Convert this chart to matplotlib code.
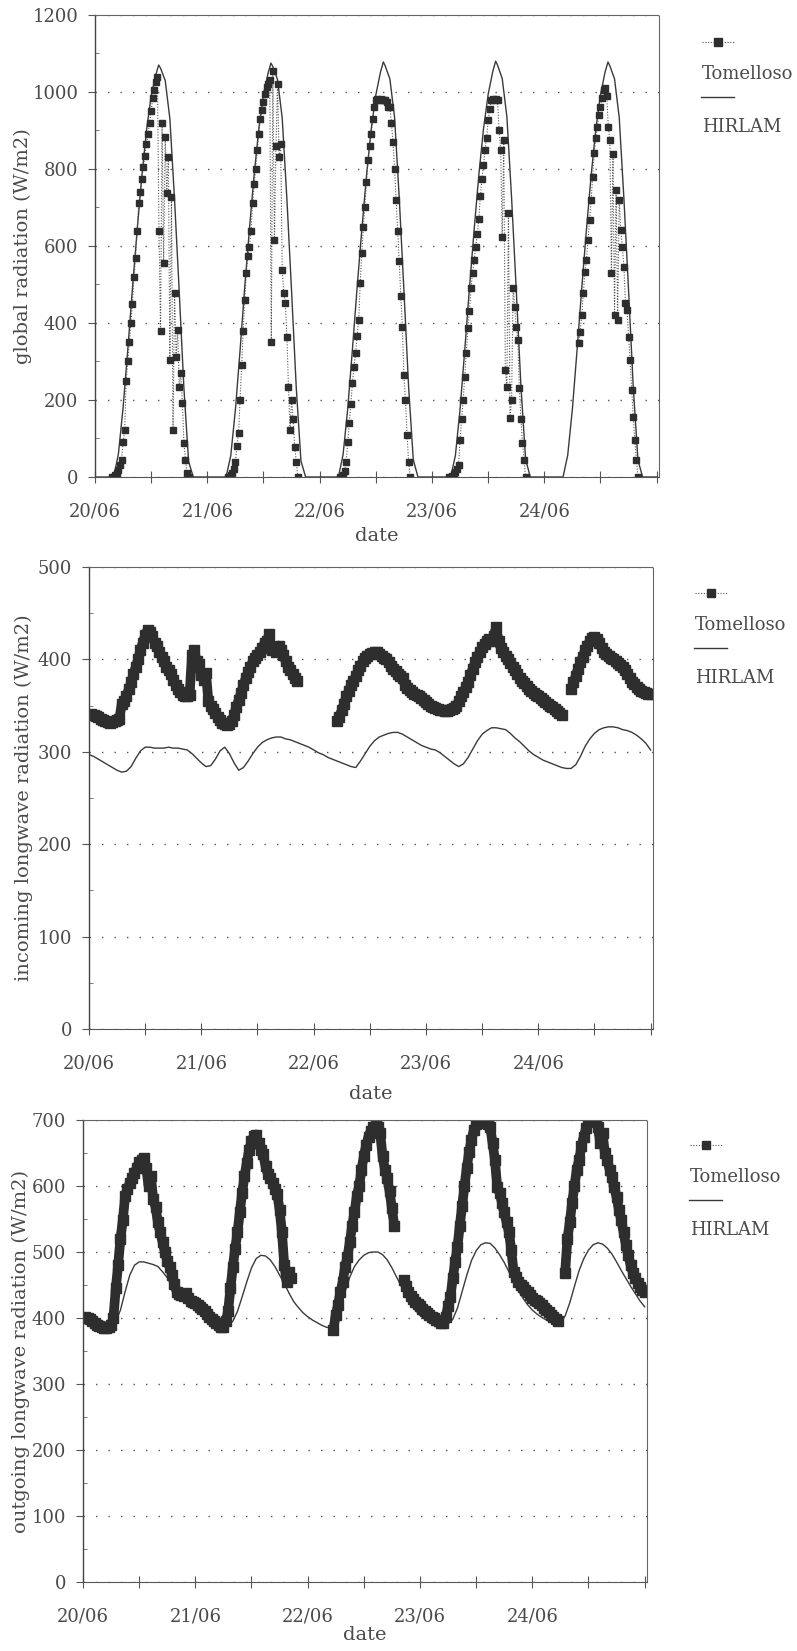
import numpy as np
import matplotlib
matplotlib.use('Agg')
import matplotlib.pyplot as plt
from matplotlib.lines import Line2D

plt.rcParams['font.family'] = ['DejaVu Serif', 'DejaVu Sans']

# ---------------------------------------------------------------
# data (x in hours since 20/06 00:00)
# ---------------------------------------------------------------
day_labels = ['20/06', '21/06', '22/06', '23/06', '24/06']

# global radiation, HIRLAM: knots per day
hirlam_glob_hours = [0, 4, 5, 6, 7, 8, 9, 10, 11, 12, 13, 13.6, 14, 15, 16, 17, 18, 19, 20, 21]
hirlam_glob_d1 = [0, 0, 60, 180, 330, 490, 640, 780, 900, 990, 1045, 1070, 1062, 1030, 930, 720, 480, 230, 40, 0]
hirlam_glob_d2 = [0, 0, 55, 175, 330, 495, 645, 785, 905, 995, 1050, 1075, 1066, 1032, 932, 722, 482, 232, 42, 0]
hirlam_glob_d3 = [0, 0, 58, 178, 332, 492, 642, 782, 902, 992, 1052, 1078, 1068, 1034, 935, 725, 485, 235, 45, 0]
hirlam_glob_d4 = [0, 0, 56, 176, 330, 490, 642, 784, 904, 994, 1054, 1080, 1070, 1035, 936, 726, 486, 236, 46, 0]
hirlam_glob_d5 = [0, 0, 57, 177, 331, 491, 643, 783, 903, 993, 1053, 1078, 1068, 1034, 934, 724, 484, 234, 44, 0]

# global radiation, Tomelloso: 20-min samples, start hour of each day
tom_glob_start = [3 + 2/3, 4 + 1/3, 4 + 1/3, 3 + 2/3, 7 + 1/3]
tom_glob_d1 = [0, 0, 5, 10, 18, 30, 44, 90, 122, 250, 300, 350, 400, 450, 520, 570, 640, 711, 740, 775,
               806, 835, 865, 890, 920, 950, 985, 1005, 1025, 1040, 640, 380, 920, 556, 884, 738, 831, 304,
               728, 122, 478, 312, 382, 234, 270, 192, 88, 44, 10, 0]
tom_glob_d2 = [0, 0, 5, 10, 20, 40, 80, 114, 200, 290, 380, 460, 530, 575, 598, 640, 711, 760, 800, 850,
               890, 930, 953, 975, 995, 1013, 1020, 1030, 351, 1055, 616, 860, 1020, 830, 866, 538, 478,
               452, 364, 234, 122, 200, 150, 78, 40, 0]
tom_glob_d3 = [0, 0, 5, 15, 40, 90, 140, 190, 244, 285, 322, 365, 408, 504, 582, 650, 702, 765, 823, 860,
               890, 930, 960, 980, 982, 980, 983, 980, 978, 980, 975, 960, 960, 920, 870, 800, 720, 640,
               560, 470, 390, 264, 200, 110, 40, 0]
tom_glob_d4 = [0, 0, 3, 8, 12, 20, 30, 96, 150, 200, 260, 322, 387, 430, 490, 530, 564, 598, 630, 670,
               730, 775, 810, 850, 880, 927, 955, 980, 982, 980, 983, 980, 900, 850, 624, 875, 278, 234,
               686, 153, 200, 491, 442, 390, 356, 230, 150, 88, 44, 0]
tom_glob_d5 = [348, 377, 420, 478, 533, 564, 616, 668, 720, 780, 841, 880, 910, 940, 960, 985, 1005, 1010,
               990, 910, 875, 530, 840, 421, 745, 408, 720, 642, 598, 546, 452, 434, 364, 304, 226, 156,
               96, 44, 0]

# incoming longwave, HIRLAM: hourly 0..120
hirlam_lwin = [297, 295, 292, 289, 286, 283, 280, 278, 279, 284, 293, 301, 305, 305, 304, 304, 304, 305,
               304, 304, 303, 302, 298, 293, 288, 284, 285, 292, 301, 305, 298, 288, 280, 283, 290, 298,
               305, 310, 313, 315, 316, 316, 314, 313, 311, 309, 307, 305, 302, 299, 297, 294, 292, 290,
               288, 286, 284, 283, 290, 298, 306, 312, 316, 318, 320, 321, 321, 319, 316, 313, 310, 307,
               305, 303, 302, 299, 295, 291, 287, 284, 287, 294, 303, 312, 319, 323, 326, 326, 325, 324,
               320, 315, 311, 306, 301, 297, 294, 291, 289, 287, 285, 283, 282, 282, 286, 295, 306, 314,
               320, 324, 326, 327, 327, 326, 324, 323, 321, 318, 314, 309, 302]

# incoming longwave, Tomelloso: half-hourly segments
tom_lwin_start = [0.5, 53.0, 103.0]
tom_lwin_a = [341, 340, 339, 338, 336, 334, 333, 332, 331, 332, 333, 334, 336, 352, 355, 360, 368, 375,
              384, 392, 400, 410, 418, 426, 432, 430, 425, 418, 415, 408, 403, 398, 392, 388, 384, 378,
              372, 368, 365, 362, 360, 360, 362, 405, 410, 398, 395, 383, 378, 385, 355, 350, 346, 342,
              338, 334, 331, 330, 329, 330, 333, 340, 349, 356, 364, 372, 380, 386, 392, 398, 402, 405,
              408, 412, 418, 420, 427, 410, 412, 408, 415, 410, 405, 398, 392, 388, 384, 380, 377]
tom_lwin_b = [333, 338, 345, 352, 360, 366, 372, 377, 382, 388, 393, 398, 401, 404, 406, 407, 408, 408,
              406, 404, 402, 400, 397, 393, 390, 387, 384, 382, 380, 372, 369, 367, 365, 363, 362, 360,
              358, 356, 354, 352, 350, 348, 347, 346, 345, 345, 344, 344, 345, 346, 347, 350, 355, 360,
              365, 370, 376, 383, 390, 397, 403, 408, 413, 417, 420, 422, 420, 425, 435, 420, 412, 408,
              404, 400, 396, 392, 388, 384, 380, 377, 374, 371, 368, 366, 364, 362, 360, 358, 356, 354,
              352, 350, 348, 346, 344, 342, 340]
tom_lwin_c = [368, 375, 382, 390, 397, 403, 410, 415, 420, 423, 424, 422, 418, 412, 408, 406, 404, 402,
              400, 398, 396, 394, 392, 388, 384, 380, 376, 373, 370, 368, 366, 365, 364, 363, 363]

# outgoing longwave, HIRLAM: hourly 0..120
hirlam_lwout = [405, 402, 399, 396, 393, 391, 390, 395, 412, 440, 465, 480, 485, 485, 483, 481, 478, 470,
                461, 452, 442, 433, 426, 418, 412, 406, 402, 398, 395, 392, 390, 389, 395, 410, 432, 455,
                476, 490, 495, 494, 488, 478, 465, 452, 438, 425, 416, 408, 402, 397, 393, 389, 386, 385,
                395, 415, 440, 462, 478, 488, 495, 499, 500, 500, 496, 488, 476, 462, 448, 434, 422, 412,
                404, 399, 395, 393, 391, 390, 391, 398, 415, 440, 465, 487, 502, 511, 514, 513, 506, 496,
                484, 470, 456, 442, 430, 420, 412, 406, 401, 397, 394, 392, 393, 403, 423, 448, 472, 490,
                503, 511, 514, 512, 506, 497, 485, 472, 460, 448, 437, 426, 417]

# outgoing longwave, Tomelloso: half-hourly segments
tom_lwout_start = [0.5, 53.5, 68.5, 103.0]
tom_lwout_a = [402, 400, 398, 395, 392, 390, 388, 386, 385, 385, 386, 390, 400, 445, 480, 520, 548, 585,
               595, 605, 612, 620, 628, 636, 640, 642, 628, 600, 615, 580, 568, 545, 530, 515, 500, 487,
               477, 465, 452, 440, 437, 435, 433, 438, 430, 426, 424, 423, 420, 416, 413, 410, 406, 402,
               398, 395, 392, 389, 387, 386, 395, 410, 445, 477, 505, 530, 560, 590, 615, 635, 655, 668,
               676, 678, 665, 655, 648, 630, 618, 612, 605, 595, 588, 564, 530, 480, 455, 470, 460]
tom_lwout_b = [382, 405, 420, 440, 455, 478, 492, 515, 540, 560, 585, 600, 625, 645, 662, 675, 684, 690,
               692, 690, 680, 645, 625, 612, 592, 566, 540]
tom_lwout_c = [458, 448, 440, 434, 429, 425, 421, 418, 414, 411, 408, 405, 402, 400, 397, 395, 393, 392,
               402, 418, 432, 460, 485, 508, 540, 570, 600, 628, 652, 670, 685, 694, 697, 698, 697, 696,
               694, 690, 665, 640, 598, 590, 575, 560, 545, 530, 503, 470, 462, 455, 450, 447, 443, 439,
               435, 431, 428, 426, 423, 419, 415, 412, 409, 405, 401, 398, 396]
tom_lwout_d = [468, 520, 545, 575, 600, 625, 640, 660, 675, 688, 697, 700, 703, 698, 690, 665, 680, 650,
               640, 625, 614, 598, 583, 564, 548, 530, 510, 495, 480, 468, 460, 453, 447, 443, 440]


def join_segments(starts, segs, step):
    xs, ys = [], []
    for s, seg in zip(starts, segs):
        xs.append(s + step * np.arange(len(seg)))
        ys.append(np.asarray(seg, float))
        xs.append([np.nan])
        ys.append([np.nan])
    return np.concatenate(xs), np.concatenate(ys)


hg_x = np.concatenate([24 * d + np.array(hirlam_glob_hours) for d in range(5)] + [[120]])
hg_y = np.concatenate([hirlam_glob_d1, hirlam_glob_d2, hirlam_glob_d3, hirlam_glob_d4, hirlam_glob_d5, [0]])

tg_x, tg_y = join_segments([24 * d + s for d, s in enumerate(tom_glob_start)],
                           [tom_glob_d1, tom_glob_d2, tom_glob_d3, tom_glob_d4, tom_glob_d5], 1 / 3)
ti_x, ti_y = join_segments(tom_lwin_start, [tom_lwin_a, tom_lwin_b, tom_lwin_c], 0.5)
to_x, to_y = join_segments(tom_lwout_start, [tom_lwout_a, tom_lwout_b, tom_lwout_c, tom_lwout_d], 0.5)
hours = np.arange(121)

# ---------------------------------------------------------------
# figure
# ---------------------------------------------------------------
W, H = 797, 1651
fig = plt.figure(figsize=(W / 100, H / 100), dpi=100)
TXT = '#4a4a4a'
DARK = '#2e2e2e'


def add_ax(left, top, right, bottom):
    return fig.add_axes([left / W, 1 - bottom / H, (right - left) / W, (bottom - top) / H])


def style(ax, ymax, ystep, ylabel, ylab_x, xlab_y):
    ax.set_xlim(0, 120.5)
    ax.set_ylim(0, ymax)
    ax.set_xticks([0, 24, 48, 72, 96])
    ax.set_xticklabels(day_labels)
    ax.set_xticks([12, 36, 60, 84, 108, 120], minor=True)
    ax.tick_params(axis='x', which='both', direction='inout', length=9, width=0.8,
                   color='#555555', labelsize=13, labelcolor=TXT, pad=14)
    ax.set_yticks(np.arange(0, ymax + 1, ystep))
    ax.set_yticks(np.arange(ystep / 2, ymax, ystep), minor=True)
    ax.tick_params(axis='y', which='major', direction='out', length=5, width=0.8,
                   color='#555555', labelsize=13, labelcolor=TXT, pad=7)
    ax.tick_params(axis='y', which='minor', direction='in', length=3, width=0.6, color='#666666')
    ax.yaxis.grid(True, which='major', linestyle=(0, (1, 8)), color='#555555', lw=1.0)
    ax.set_axisbelow(True)
    for side in ['top', 'right']:
        ax.spines[side].set_linestyle((0, (1, 1)))
        ax.spines[side].set_color('#666666')
        ax.spines[side].set_linewidth(0.8)
    ax.spines['left'].set_color('#444444')
    ax.spines['left'].set_linewidth(1.0)
    ax.spines['bottom'].set_color('#555555')
    ax.spines['bottom'].set_linestyle((0, (2, 1)))
    ax.set_ylabel(ylabel, fontsize=14, color=TXT)
    ax.yaxis.set_label_coords(ylab_x, 0.5)
    ax.set_xlabel('date', fontsize=14, color=TXT, va='top')
    ax.xaxis.set_label_coords(0.5, xlab_y)


def legend(x0, y0):
    fx = lambda p: p / W
    fy = lambda p: 1 - p / H
    fig.add_artist(Line2D([fx(x0), fx(x0 + 32)], [fy(y0), fy(y0)], transform=fig.transFigure,
                          color='#555555', lw=0.8, linestyle=(0, (1, 1.5))))
    fig.add_artist(Line2D([fx(x0 + 16)], [fy(y0)], transform=fig.transFigure, marker='s',
                          ms=6, color=DARK, lw=0))
    fig.text(fx(x0), fy(y0 + 32), 'Tomelloso', fontsize=13, color=TXT, va='center', ha='left')
    fig.add_artist(Line2D([fx(x0 - 1), fx(x0 + 32)], [fy(y0 + 55), fy(y0 + 55)], transform=fig.transFigure,
                          color='#3a3a3a', lw=1.0))
    fig.text(fx(x0), fy(y0 + 85), 'HIRLAM', fontsize=13, color=TXT, va='center', ha='left')


# panel 1: global radiation
ax1 = add_ax(95, 15, 659, 477)
ax1.plot(hg_x, hg_y, color='#3a3a3a', lw=1.0)
ax1.plot(tg_x, tg_y, color='#555555', lw=0.8, linestyle=(0, (1, 1.5)),
         marker='s', ms=5, mfc=DARK, mec=DARK)
style(ax1, 1200, 200, 'global radiation (W/m2)', -0.112, -0.108)
legend(702, 42)

# panel 2: incoming longwave
ax2 = add_ax(89, 567, 653, 1029)
ax2.plot(hours, hirlam_lwin, color='#3a3a3a', lw=1.0)
ax2.plot(ti_x, ti_y, color=DARK, lw=7, solid_capstyle='butt', marker='s', ms=7, mfc=DARK, mec=DARK)
style(ax2, 500, 100, 'incoming longwave radiation (W/m2)', -0.099, -0.121)
legend(695, 593)

# panel 3: outgoing longwave
ax3 = add_ax(83, 1120, 647, 1582)
ax3.plot(hours, hirlam_lwout, color='#3a3a3a', lw=1.0)
ax3.plot(to_x, to_y, color=DARK, lw=7, solid_capstyle='butt', marker='s', ms=7, mfc=DARK, mec=DARK)
style(ax3, 700, 100, 'outgoing longwave radiation (W/m2)', -0.094, -0.095)
legend(690, 1145)

fig.savefig('out.png', dpi=100)
